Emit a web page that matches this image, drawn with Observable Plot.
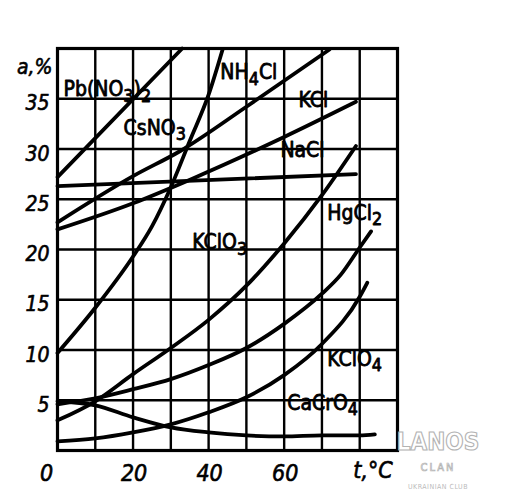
<!DOCTYPE html>
<html>
<head>
<meta charset="utf-8">
<script src="https://cdn.jsdelivr.net/npm/d3@7"></script>
<script src="https://cdn.jsdelivr.net/npm/@observablehq/plot@0.6"></script>
<style>
  html, body { margin: 0; padding: 0; background: #fff; }
  #wrap { position: relative; width: 512px; height: 493px; overflow: hidden; }
  #wm { position: absolute; left: 378px; top: 430px; width: 120px; text-align: center;
        font-family: "DejaVu Sans Condensed", "DejaVu Sans", sans-serif; font-stretch: condensed; line-height: 1; }
  #wm .a { font-size: 24px; font-weight: bold; height: 26px; color: #fff; -webkit-text-stroke: 1.1px #b3b3b3; }
  #wm .b { font-size: 11px; height: 14px; margin-top: 6px; letter-spacing: 2px; color: #fff; -webkit-text-stroke: 0.7px #b3b3b3; }
  #wm .c { font-size: 7px; letter-spacing: 0.5px; margin-top: 8px; color: #bbb; }
</style>
</head>
<body>
<div id="wrap"><div id="chart"></div>
<div id="wm"><div class="a">LANOS</div><div class="b">CLAN</div><div class="c">UKRAINIAN CLUB</div></div>
</div>
<script>
// Solubility a, % versus temperature t, °C
const PbNO32 = [[0, 27.2], [33, 40]];
const CsNO3  = [[0, 9.7], [10, 14.2], [20, 19.3], [25, 22.3], [30, 26.2], [35, 30.8], [40, 35.4], [43.7, 39.9]];
const NH4Cl  = [[0, 22.7], [20, 27.3], [32.5, 29.8], [50, 34.2], [72, 39.9]];
const KCl    = [[0, 22.0], [20, 24.6], [36, 27.1], [60, 31.2], [79, 34.7]];
const NaCl   = [[0, 26.3], [79, 27.5]];
const KClO3  = [[0, 3.0], [10, 4.9], [20, 7.6], [30, 10.2], [40, 13.0], [50, 16.4], [60, 20.6], [70, 25.4], [79, 30.3]];
const HgCl2  = [[0, 4.6], [10, 5.2], [20, 6.1], [30, 7.1], [40, 8.5], [50, 10.2], [60, 12.6], [70, 15.6], [75, 17.5], [80, 20.2], [83, 21.8]];
const KClO4  = [[0, 0.9], [10, 1.2], [20, 1.8], [30, 2.6], [40, 3.8], [50, 5.3], [60, 7.5], [70, 10.6], [80, 15.3], [82, 16.7]];
const CaCrO4 = [[0, 4.9], [10, 4.5], [20, 3.3], [30, 2.3], [40, 1.8], [50, 1.5], [60, 1.4], [70, 1.5], [80, 1.5], [84, 1.6]];

const seriesNames = ["Pb(NO3)2", "CsNO3", "NH4Cl", "KCl", "NaCl", "KClO3", "HgCl2", "KClO4", "CaCrO4"];
const seriesValues = [PbNO32, CsNO3, NH4Cl, KCl, NaCl, KClO3, HgCl2, KClO4, CaCrO4];

// curve labels ("_" marks a subscript digit) and where they sit, in data units
const labelTexts = ["Pb(NO_3)_2", "CsNO_3", "NH_4Cl", "KCl", "NaCl", "HgCl_2", "KClO_3", "KClO_4", "CaCrO_4"];
const labelT = [1.6, 17.5, 43.1, 63.8, 59.0, 71.4, 35.7, 71.4, 60.8];
const labelA = [35.9, 32.1, 37.6, 34.8, 29.9, 23.6, 20.7, 9.1, 4.7];

const xTicks = [20, 40, 60];
const xZero = [0];
const yTicks = [5, 10, 15, 20, 25, 30, 35];
const xGrid = [10, 20, 30, 40, 50, 60, 70, 80];
const yGrid = [5, 10, 15, 20, 25, 30, 35];
const xTitle = "t,\u00B0C";
const yTitle = "a,%";

const rows = seriesNames.flatMap((name, i) => seriesValues[i].map(([t, a]) => ({name, t, a})));
const labels = labelTexts.map((text, i) => ({text, t: labelT[i], a: labelA[i]}));

const FONT = '"DejaVu Sans Condensed", "DejaVu Sans", sans-serif';
const tickStyle = {fontSize: 21, fontStyle: "italic", fill: "#000", stroke: "#000", strokeWidth: 0.6};

const svg = Plot.plot({
  width: 512,
  height: 493,
  marginLeft: 57,
  marginRight: 115,
  marginTop: 48,
  marginBottom: 43,
  x: {domain: [0, 90], axis: null},
  y: {domain: [0, 40], axis: null},
  style: {background: "#fff", color: "#000", fontFamily: FONT},
  marks: [
    Plot.ruleX(xGrid, {x: d => d, y1: 0, y2: 40, stroke: "#000", strokeWidth: 2.4}),
    Plot.ruleY(yGrid, {y: d => d, x1: 0, x2: 90, stroke: "#000", strokeWidth: 2.4}),
    Plot.frame({stroke: "#000", strokeWidth: 3.2}),
    Plot.line(rows, {x: "t", y: "a", z: "name", curve: "monotone-x", stroke: "#000", strokeWidth: 3.8, strokeLinecap: "round"}),
    Plot.text(yTicks, {x: 0, y: d => d, text: d => String(d), textAnchor: "end", dx: -8, dy: 5, ...tickStyle}),
    Plot.text([yTitle], {x: 0, y: 38.1, text: d => d, textAnchor: "end", dx: -5, ...tickStyle}),
    Plot.text(xTicks, {x: d => d, y: 0, text: d => String(d), dy: 23, dx: 1, ...tickStyle, fontSize: 23}),
    Plot.text(xZero, {x: d => d, y: 0, text: d => String(d), dy: 23, dx: -11, ...tickStyle, fontSize: 23}),
    Plot.text([xTitle], {x: 78.3, y: 0, text: d => d, textAnchor: "start", dy: 20, ...tickStyle, fontSize: 23}),
    Plot.text(labels, {x: "t", y: "a", text: "text", textAnchor: "start",
      fontSize: 21, fill: "#000", stroke: "#000", strokeWidth: 0.8})
  ]
});

// turn "_d" into lowered subscript tspans
d3.select(svg).selectAll("text").filter(function() { return this.textContent.includes("_"); }).each(function() {
  const raw = this.textContent;
  this.textContent = "";
  const sel = d3.select(this);
  const parts = raw.split(/_(\d)/);
  parts.forEach((p, i) => {
    if (!p) return;
    if (i % 2 === 1) {
      sel.append("tspan").attr("dy", "0.3em").attr("font-size", "0.85em").text(p);
    } else {
      const ts = sel.append("tspan").text(p);
      if (i > 0) ts.attr("dy", "-0.26em");
    }
  });
});

document.getElementById("chart").appendChild(svg);
</script>
</body>
</html>
